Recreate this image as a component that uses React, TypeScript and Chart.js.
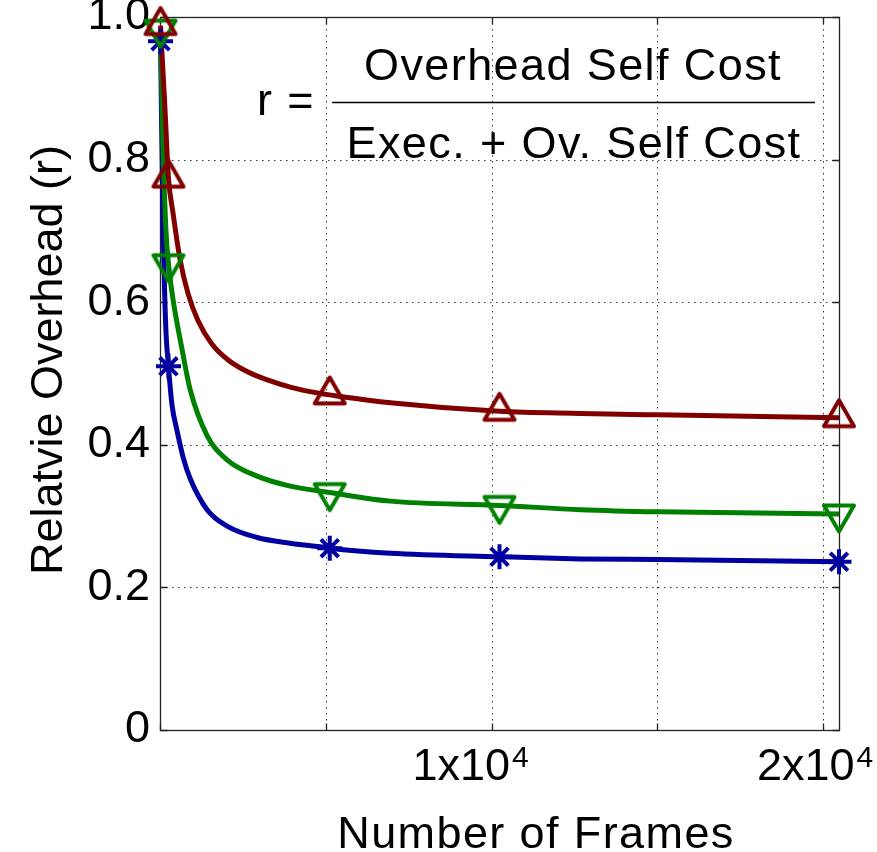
import React, { useEffect, useRef } from "react";
import { Chart, registerables } from "chart.js";

Chart.register(...registerables);

// ---- data ----
const markerFrames = [16, 256, 5120, 10240, 20480];
const redMarkers = [0.988, 0.774, 0.47, 0.447, 0.438];
const greenMarkers = [0.983, 0.654, 0.333, 0.315, 0.303];
const blueMarkers = [0.966, 0.51, 0.255, 0.243, 0.236];

const redCurveFrames = [16, 151, 256, 393, 604, 846, 1148, 1571, 2054, 2658, 3171, 3926, 4832, 5120, 6947, 10240, 12685, 15010, 20480];
const redCurve = [0.988, 0.87, 0.774, 0.725, 0.66, 0.612, 0.574, 0.541, 0.519, 0.502, 0.492, 0.481, 0.472, 0.47, 0.459, 0.447, 0.444, 0.442, 0.438];

const greenCurveFrames = [16, 90, 180, 256, 393, 665, 906, 1420, 2024, 2930, 3926, 4832, 5120, 6947, 10240, 12685, 15010, 20480];
const greenCurve = [0.983, 0.82, 0.7, 0.654, 0.604, 0.534, 0.478, 0.413, 0.379, 0.356, 0.342, 0.335, 0.333, 0.321, 0.315, 0.309, 0.306, 0.303];

const blueCurveFrames = [16, 90, 170, 256, 362, 513, 700, 906, 1420, 2024, 2930, 3926, 4832, 5120, 6947, 10240, 12685, 15010, 20480];
const blueCurve = [0.966, 0.72, 0.57, 0.51, 0.456, 0.42, 0.382, 0.353, 0.309, 0.286, 0.27, 0.262, 0.257, 0.255, 0.248, 0.243, 0.24, 0.239, 0.236];

const xMin = 0;
const xMax = 20480;
const gridXValues = [5000, 10000, 15000, 20000];
const gridYValues = [0.2, 0.4, 0.6, 0.8];
const tickXValues = [0, 5000, 10000, 15000, 20000];
const tickYValues = [0, 0.2, 0.4, 0.6, 0.8, 1.0];
const xTickLabelValues = [10000, 20000];
const xTickMantissas = ["1", "2"];
const xTickExponent = "4";

const xTitle = "Number of Frames";
const yTitle = "Relatvie Overhead (r)";
const formulaLeft = "r =";
const formulaTop = "Overhead Self Cost";
const formulaBottom = "Exec. + Ov. Self Cost";

const RED = "#800000";
const GREEN = "#008000";
const BLUE = "#0000a0";
const FONT = "'Liberation Sans', Arial, Helvetica, sans-serif";
const LABEL_SHIFT = [-21, -8];

function pts(xs: number[], ys: number[]) {
  return xs.map((x, i) => ({ x, y: ys[i] }));
}

function triangleMarker(color: string, down: boolean) {
  const w = 36;
  const h = 42;
  const c = document.createElement("canvas");
  c.width = w;
  c.height = h;
  const g = c.getContext("2d")!;
  g.strokeStyle = color;
  g.lineWidth = 4;
  g.lineJoin = "round";
  g.beginPath();
  if (!down) {
    g.moveTo(w / 2, 3.5);
    g.lineTo(w - 3, 29.5);
    g.lineTo(3, 29.5);
  } else {
    g.moveTo(w / 2, h - 3.5);
    g.lineTo(w - 3, h - 29.5);
    g.lineTo(3, h - 29.5);
  }
  g.closePath();
  g.stroke();
  return c;
}

const framePlugin = {
  id: "matlabFrame",
  beforeDatasetsDraw(chart: any) {
    const { ctx, chartArea: a, scales } = chart;
    const xs = scales.x;
    const ys = scales.y;
    ctx.save();
    ctx.strokeStyle = "#333";
    ctx.lineWidth = 1;
    ctx.setLineDash([1.5, 4.5]);
    gridXValues.forEach((v) => {
      const px = Math.round(xs.getPixelForValue(v)) + 0.5;
      ctx.beginPath();
      ctx.moveTo(px, a.top);
      ctx.lineTo(px, a.bottom);
      ctx.stroke();
    });
    gridYValues.forEach((v) => {
      const py = Math.round(ys.getPixelForValue(v)) + 0.5;
      ctx.beginPath();
      ctx.moveTo(a.left, py);
      ctx.lineTo(a.right, py);
      ctx.stroke();
    });
    ctx.setLineDash([]);
    ctx.strokeStyle = "#222";
    ctx.lineWidth = 1.3;
    const L = Math.round(a.left) + 0.5;
    const R = Math.round(a.right) + 0.5;
    const T = Math.round(a.top) + 0.5;
    const B = Math.round(a.bottom) + 0.5;
    ctx.strokeRect(L, T, R - L, B - T);
    const tl = 7;
    ctx.beginPath();
    tickXValues.forEach((v) => {
      const px = Math.round(xs.getPixelForValue(v)) + 0.5;
      ctx.moveTo(px, B);
      ctx.lineTo(px, B - tl);
      ctx.moveTo(px, T);
      ctx.lineTo(px, T + tl);
    });
    tickYValues.forEach((v) => {
      const py = Math.round(ys.getPixelForValue(v)) + 0.5;
      ctx.moveTo(L, py);
      ctx.lineTo(L + tl, py);
      ctx.moveTo(R, py);
      ctx.lineTo(R - tl, py);
    });
    ctx.stroke();
    ctx.restore();
  },
  afterDraw(chart: any) {
    const { ctx, chartArea: a, scales } = chart;
    const xs = scales.x;
    ctx.save();
    ctx.fillStyle = "#000";
    ctx.textBaseline = "alphabetic";
    xTickLabelValues.forEach((v, i) => {
      const center = xs.getPixelForValue(v) + LABEL_SHIFT[i];
      ctx.font = `45px ${FONT}`;
      const main = `${xTickMantissas[i]}x10`;
      const wMain = ctx.measureText(main).width;
      ctx.font = `30px ${FONT}`;
      const wExp = ctx.measureText(xTickExponent).width;
      const left = center - (wMain + 2 + wExp) / 2;
      ctx.font = `45px ${FONT}`;
      ctx.textAlign = "left";
      ctx.fillText(main, left, a.bottom + 50);
      ctx.font = `30px ${FONT}`;
      ctx.fillText(xTickExponent, left + wMain + 2, a.bottom + 37);
    });
    ctx.font = `45px ${FONT}`;
    ctx.textAlign = "center";
    ctx.save();
    ctx.translate(62, 360);
    ctx.rotate(-Math.PI / 2);
    ctx.fillText(yTitle, 0, 0);
    ctx.restore();
    (ctx as any).letterSpacing = "1.4px";
    ctx.fillText(xTitle, 536, a.bottom + 118);
    ctx.fillText(formulaTop, 573, 80);
    ctx.fillText(formulaBottom, 574, 158);
    ctx.textAlign = "left";
    ctx.fillText(formulaLeft, 257, 115);
    (ctx as any).letterSpacing = "0px";
    ctx.strokeStyle = "#000";
    ctx.lineWidth = 1.3;
    ctx.beginPath();
    ctx.moveTo(332, 102.5);
    ctx.lineTo(815, 102.5);
    ctx.stroke();
    ctx.restore();
  },
};

export default function App() {
  const ref = useRef<HTMLCanvasElement>(null);
  useEffect(() => {
    if (!ref.current) return;
    const lineBase = {
      type: "line",
      borderWidth: 5,
      pointRadius: 0,
      cubicInterpolationMode: "monotone",
      fill: false,
      clip: false,
    };
    const chart = new Chart(ref.current, {
      type: "line",
      data: {
        datasets: [
          { ...lineBase, label: "red-curve", data: pts(redCurveFrames, redCurve), borderColor: RED, order: 3 },
          { ...lineBase, label: "green-curve", data: pts(greenCurveFrames, greenCurve), borderColor: GREEN, order: 4 },
          { ...lineBase, label: "blue-curve", data: pts(blueCurveFrames, blueCurve), borderColor: BLUE, order: 5 },
          {
            label: "red-markers",
            data: pts(markerFrames, redMarkers),
            showLine: false,
            pointStyle: triangleMarker(RED, false),
            pointRadius: 18,
            borderColor: RED,
            clip: false,
            order: 0,
          },
          {
            label: "green-markers",
            data: pts(markerFrames, greenMarkers),
            showLine: false,
            pointStyle: triangleMarker(GREEN, true),
            pointRadius: 18,
            borderColor: GREEN,
            clip: false,
            order: 1,
          },
          {
            label: "blue-markers",
            data: pts(markerFrames, blueMarkers),
            showLine: false,
            pointStyle: "star",
            pointRadius: 12.5,
            borderWidth: 4,
            borderColor: BLUE,
            backgroundColor: "rgba(0,0,0,0)",
            clip: false,
            order: 2,
          },
        ] as any,
      },
      options: {
        responsive: false,
        animation: false,
        devicePixelRatio: 1,
        events: [],
        layout: {
          padding: { left: 0, right: 38, top: 17, bottom: 122 },
          autoPadding: false,
        } as any,
        plugins: {
          legend: { display: false },
          tooltip: { enabled: false },
        },
        scales: {
          x: {
            type: "linear",
            min: xMin,
            max: xMax,
            grid: { display: false, drawTicks: false },
            border: { display: false },
            ticks: { display: false },
            afterFit: (s: any) => {
              s.height = 0;
              s.paddingLeft = 0;
              s.paddingRight = 0;
            },
          },
          y: {
            type: "linear",
            min: 0,
            max: 1,
            grid: { display: false, drawTicks: false },
            border: { display: false },
            ticks: {
              stepSize: 0.2,
              padding: 10,
              color: "#000",
              font: { family: FONT, size: 45 },
              callback: (v: any) => (Number(v) === 0 ? "0" : Number(v).toFixed(1)),
            },
            afterFit: (s: any) => {
              s.width = 160;
              s.paddingTop = 0;
              s.paddingBottom = 0;
            },
          },
        },
      } as any,
      plugins: [framePlugin],
    });
    return () => chart.destroy();
  }, []);
  return (
    <div style={{ position: "fixed", left: 0, top: 0, width: 877, height: 852, background: "#fff" }}>
      <canvas ref={ref} width={877} height={852} style={{ width: 877, height: 852, display: "block" }} />
    </div>
  );
}
